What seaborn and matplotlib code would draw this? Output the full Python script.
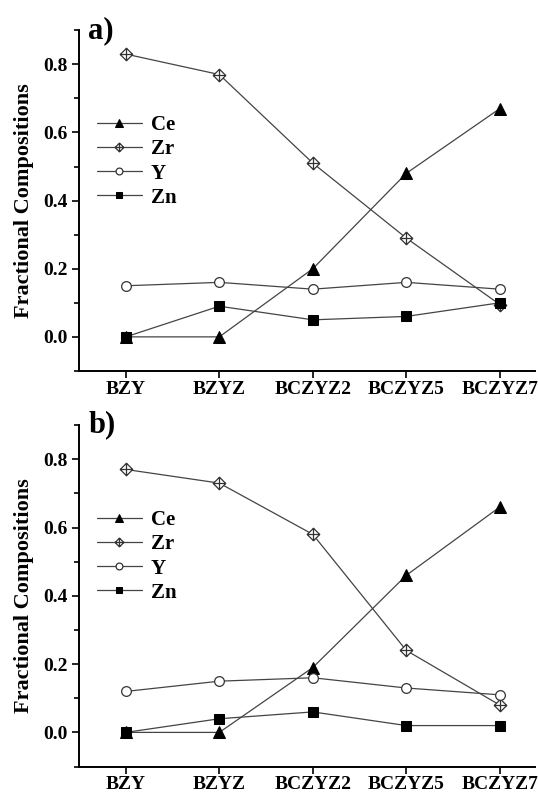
"""
Fractional compositions of Ce, Zr, Y and Zn across the BZY / BCZYZ series,
two panels (a, b).
"""

import numpy as np
import matplotlib
matplotlib.use("Agg")
import matplotlib.pyplot as plt
import seaborn as sns
from matplotlib.path import Path
from matplotlib.ticker import MultipleLocator

samples = ["BZY", "BZYZ", "BCZYZ2", "BCZYZ5", "BCZYZ7"]
elements = ["Ce", "Zr", "Y", "Zn"]

# panel a
ce_a = [0.00, 0.00, 0.20, 0.48, 0.67]
zr_a = [0.83, 0.77, 0.51, 0.29, 0.095]
y_a = [0.15, 0.16, 0.14, 0.16, 0.14]
zn_a = [0.00, 0.09, 0.05, 0.06, 0.10]

# panel b
ce_b = [0.00, 0.00, 0.19, 0.46, 0.66]
zr_b = [0.77, 0.73, 0.58, 0.24, 0.08]
y_b = [0.12, 0.15, 0.16, 0.13, 0.11]
zn_b = [0.00, 0.04, 0.06, 0.02, 0.02]

panels = [("a)", [ce_a, zr_a, y_a, zn_a]), ("b)", [ce_b, zr_b, y_b, zn_b])]

# diamond with a cross inside (Zr marker)
diamond_cross = Path(
    [(0, 1), (1, 0), (0, -1), (-1, 0), (0, 1),
     (-1, 0), (1, 0), (0, -1), (0, 1)],
    [Path.MOVETO, Path.LINETO, Path.LINETO, Path.LINETO, Path.CLOSEPOLY,
     Path.MOVETO, Path.LINETO, Path.MOVETO, Path.LINETO],
)

styles = {
    "Ce": dict(marker="^", markersize=8, markerfacecolor="black", markeredgecolor="black"),
    "Zr": dict(marker=diamond_cross, markersize=9, markerfacecolor="white",
               markeredgecolor="#333333", markeredgewidth=0.9),
    "Y": dict(marker="o", markersize=7, markerfacecolor="white",
              markeredgecolor="#333333", markeredgewidth=0.9),
    "Zn": dict(marker="s", markersize=6.5, markerfacecolor="black", markeredgecolor="black"),
}

sns.set_theme(style="ticks")
plt.rcParams["font.family"] = ["Liberation Serif", "DejaVu Serif"]
plt.rcParams["font.weight"] = "bold"
plt.rcParams["text.color"] = "black"
plt.rcParams["axes.labelcolor"] = "black"

fig = plt.figure(figsize=(5.38, 7.96), dpi=100)
ax_a = fig.add_axes([0.147, 0.534, 0.848, 0.428])
ax_b = fig.add_axes([0.147, 0.037, 0.848, 0.429])

for ax, (tag, series) in zip([ax_a, ax_b], panels):
    for name, vals in zip(elements, series):
        sns.lineplot(x=samples, y=vals, ax=ax, color="#444444", linewidth=0.9,
                     sort=False, label=name, **styles[name])

    ax.set_xlim(-0.5, 4.38)
    ax.set_ylim(-0.1, 0.9)
    ax.yaxis.set_major_locator(MultipleLocator(0.2))
    ax.yaxis.set_minor_locator(MultipleLocator(0.1))
    ax.set_yticks([0.0, 0.2, 0.4, 0.6, 0.8])
    ax.set_yticklabels(["0.0", "0.2", "0.4", "0.6", "0.8"])
    ax.tick_params(axis="both", which="major", direction="out", length=5, width=1.2,
                   labelsize=14, colors="black")
    ax.tick_params(axis="x", which="major", pad=2)
    ax.tick_params(axis="y", which="minor", direction="out", length=3.5, width=1.2,
                   colors="black")
    for lbl in ax.get_xticklabels() + ax.get_yticklabels():
        lbl.set_fontweight("bold")

    sns.despine(ax=ax)
    for side in ["left", "bottom"]:
        ax.spines[side].set_linewidth(1.4)
        ax.spines[side].set_color("black")

    ax.set_xlabel("")
    ax.set_ylabel("Fractional Compositions", fontsize=16, fontweight="bold",
                  labelpad=6, color="black")

    ax.legend(loc="upper left", bbox_to_anchor=(0.02, 0.775), frameon=False,
              prop={"size": 15, "weight": "bold"}, handlelength=2.2, markerscale=0.7,
              handletextpad=0.4, labelspacing=0.2, borderaxespad=0)

    ax.text(0.02, 1.0, tag, transform=ax.transAxes, fontsize=22, fontweight="bold",
            va="center", ha="left", color="black")

fig.savefig("out.png", dpi=100)
